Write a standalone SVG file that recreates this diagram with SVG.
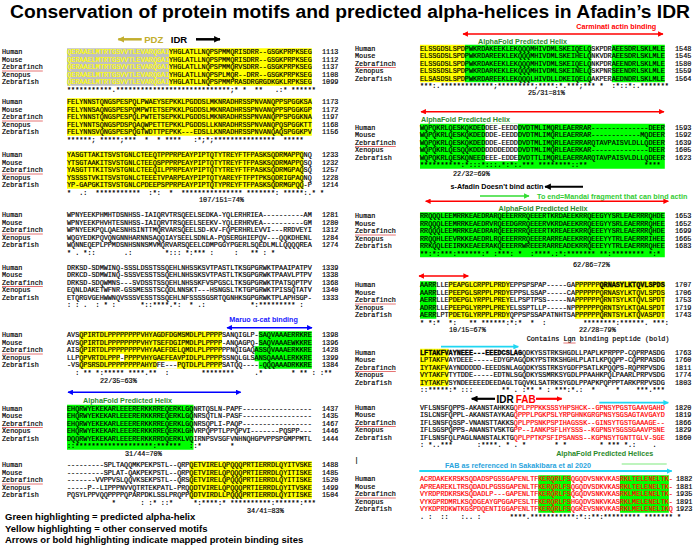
<svg xmlns="http://www.w3.org/2000/svg" width="700" height="545" viewBox="0 0 700 545">
<style>
.m{font-family:"Liberation Mono","DejaVu Sans Mono",monospace;font-size:6.8px;fill:#000;stroke:#000;stroke-width:0.18px;white-space:pre}
.b{font-weight:bold;stroke-width:0.35px}
.r{fill:#ff0000;stroke:#ff0000}
.yt{fill:#ffff00;stroke:#ffff00}
.lbl{font-family:"Liberation Sans",Arial,sans-serif;font-weight:bold;font-size:7.2px}
.hy{fill:#ffff00}
.hg{fill:#00ff00}
.hgr{fill:#c0c0c0}
.hw{fill:#ffffff}
.und{stroke:#e05050;stroke-width:0.8}
.leg{font-family:"Liberation Sans",Arial,sans-serif;font-weight:bold;font-size:9.5px;fill:#000}
</style>
<defs>
<marker id="ar-red" viewBox="0 0 10 10" refX="9" refY="5" markerWidth="6" markerHeight="5.5" markerUnits="userSpaceOnUse" orient="auto-start-reverse"><path d="M0,0L10,5L0,10z" fill="#ff0000"/></marker>
<marker id="ar-blue" viewBox="0 0 10 10" refX="9" refY="5" markerWidth="6" markerHeight="5.5" markerUnits="userSpaceOnUse" orient="auto-start-reverse"><path d="M0,0L10,5L0,10z" fill="#0000ff"/></marker>
<marker id="ar-blk" viewBox="0 0 10 10" refX="9" refY="5" markerWidth="7" markerHeight="6.5" markerUnits="userSpaceOnUse" orient="auto-start-reverse"><path d="M0,0L10,5L0,10z" fill="#000000"/></marker>
<marker id="ar-olv" viewBox="0 0 10 10" refX="9" refY="5" markerWidth="7" markerHeight="6.5" markerUnits="userSpaceOnUse" orient="auto-start-reverse"><path d="M0,0L10,5L0,10z" fill="#c2ae2e"/></marker>
<marker id="ar-grn" viewBox="0 0 10 10" refX="9" refY="5" markerWidth="6" markerHeight="5.5" markerUnits="userSpaceOnUse" orient="auto-start-reverse"><path d="M0,0L10,5L0,10z" fill="#33dd33"/></marker>
<marker id="ar-cyn" viewBox="0 0 10 10" refX="9" refY="5" markerWidth="6" markerHeight="5.5" markerUnits="userSpaceOnUse" orient="auto-start-reverse"><path d="M0,0L10,5L0,10z" fill="#1fd6f2"/></marker>
</defs>
<rect width="700" height="545" fill="#ffffff"/>
<text x="10" y="18" font-family="'Liberation Sans',Arial,sans-serif" font-weight="bold" font-size="17.5" textLength="680" lengthAdjust="spacingAndGlyphs">Conservation of protein motifs and predicted alpha-helices in Afadin’s IDR</text>

<g id="highlights">
<rect class="hgr" x="67" y="48.25" width="102" height="37.5"/>
<rect class="hy" x="169" y="48.25" width="142.8" height="37.5"/>
<rect class="hy" x="67" y="98.25" width="244.8" height="37.5"/>
<rect class="hy" x="67" y="151.25" width="236.64" height="37.5"/>
<rect class="hy" x="79.24" y="331.25" width="142.8" height="37.5"/>
<rect class="hw" x="120.04" y="353.75" width="4.08" height="7.5"/>
<rect class="hw" x="156.76" y="361.25" width="20.4" height="7.5"/>
<rect class="hg" x="258.76" y="331.25" width="53.04" height="15"/>
<rect class="hg" x="254.68" y="346.25" width="57.12" height="15"/>
<rect class="hg" x="258.76" y="361.25" width="53.04" height="7.5"/>
<rect class="hg" x="67" y="404.75" width="126.48" height="45"/>
<rect class="hy" x="189.4" y="461.25" width="122.4" height="37.5"/>
<rect class="hy" x="420" y="44.75" width="44.88" height="37.5"/>
<rect class="hg" x="464.88" y="44.75" width="126.48" height="37.5"/>
<rect class="hg" x="611.76" y="44.75" width="53.04" height="37.5"/>
<rect class="hg" x="420" y="123.75" width="244.8" height="45"/>
<rect class="hw" x="485.28" y="123.75" width="32.64" height="37.5"/>
<rect class="hg" x="420" y="212.25" width="244.8" height="45"/>
<rect class="hg" x="420" y="281.25" width="16.32" height="37.5"/>
<rect class="hy" x="448.56" y="281.25" width="61.2" height="37.5"/>
<rect class="hy" x="575.04" y="281.25" width="89.76" height="37.5"/>
<rect class="hy" x="420" y="348.75" width="28.56" height="37.5"/>
<rect class="hg" x="538.32" y="475.25" width="32.64" height="37.5"/>
<rect class="hg" x="619.92" y="475.25" width="48.96" height="37.5"/>
</g>

<g id="block-L1" class="m">
<text x="2" y="54.2">Human</text><text x="67" y="54.2"><tspan class="yt">QERAAELMTRTGSVVTLEVARQGAI</tspan>YHGLATLLNQPSPMMQRISDRR--GSGKPRPKSEG</text><text x="322" y="54.2">1113</text>
<text x="2" y="61.7">Mouse</text><text x="67" y="61.7"><tspan class="yt">QERAAELMTRTGSVVTLEVARQGAI</tspan>YHGLATLLNQPSPMMQRISDRR--GSGKPRPKSEG</text><text x="322" y="61.7">1112</text>
<text x="2" y="69.2">Zebrafinch</text><text x="67" y="69.2"><tspan class="yt">QERAAELMTRTGSVVTLEVARQGAI</tspan>YHGLATLLNQPSPMMQRVSDRR--GSGKPRPKSEG</text><text x="322" y="69.2">1137</text>
<text x="2" y="76.7">Xenopus</text><text x="67" y="76.7"><tspan class="yt">QERAAELMTRTGSVVTLEVARQGAI</tspan>YHGLATLLNQPSPLMQR--DRR--GSGKPRPKSEG</text><text x="322" y="76.7">1108</text>
<text x="2" y="84.2">Zebrafish</text><text x="67" y="84.2"><tspan class="yt">QERAAELMTRTGSVVTLEVARQGAI</tspan>YHGLATLLNQPSPMMPRASDRGRGDKGKLRPKSEG</text><text x="322" y="84.2">1099</text>
<text x="67" y="91.7" xml:space="preserve">***********.****************************;* *  **   .:* ******</text>
</g>

<g id="block-L2" class="m">
<text x="2" y="104.2">Human</text><text x="67" y="104.2">FELYNNSTQNGSPESPQLPWAEYSEPKKLPGDDSLMKNRADHRSSPNVANQPPSPGGKSA</text><text x="322" y="104.2">1173</text>
<text x="2" y="111.7">Mouse</text><text x="67" y="111.7">FELYNNSAQNGSPESPQMPWTETSEPKKLPGDDSLMKNRADHRSSPNVANQPPSPGGKGP</text><text x="322" y="111.7">1172</text>
<text x="2" y="119.2">Zebrafinch</text><text x="67" y="119.2">FELYNNSTQNGSPESPQLPWTETSEPKKLPGDDSLMKNRADHRSSPNVANQPPSPGGKNA</text><text x="322" y="119.2">1197</text>
<text x="2" y="126.7">Xenopus</text><text x="67" y="126.7">FELYNNTSQNGSPDSPQAQWPETTEPKKLPGDDSLLKNRADHRSSPNVANQPQSPGGKTT</text><text x="322" y="126.7">1168</text>
<text x="2" y="134.2">Zebrafish</text><text x="67" y="134.2">FELYNNSVQNGSPESPQGTWDTTPEPKK---EDSLLKNRADHRSSPNVANQAQSPGGKPV</text><text x="322" y="134.2">1156</text>
<text x="67" y="141.7" xml:space="preserve">******; *****;***  *  * ****   :*;*;***************  *****</text>
</g>

<g id="block-L3" class="m">
<text x="2" y="157.2">Human</text><text x="67" y="157.2">YASGTTAKITSVSTGNLCTEEQTPPPRPEAYPIPTQTYTREYFTFPASKSQDRMAPPQNQ</text><text x="322" y="157.2">1233</text>
<text x="2" y="164.7">Mouse</text><text x="67" y="164.7">YTSGTAAKITSVSTGNLCTEEQSPPPRPEAYPIPTQTYTREYFTFPASKSQDRMAPPQSQ</text><text x="322" y="164.7">1232</text>
<text x="2" y="172.2">Zebrafinch</text><text x="67" y="172.2">YASGTTTKITSVSTGNLCTEEQILPPRPEAYPIPTQTYTREYFTFPASKSQDRMGPAQSQ</text><text x="322" y="172.2">1257</text>
<text x="2" y="179.7">Xenopus</text><text x="67" y="179.7">YSSSSTVKITSVSTGNLCTEEETVPARPEAYPIPTQTYAREYFTFPTPKSQDRIGPAQNQ</text><text x="322" y="179.7">1228</text>
<text x="2" y="187.2">Zebrafish</text><text x="67" y="187.2">YP-GAPGKITSVSTGNLCPDEEPSPPRPEAYPIPTQTYPREYFTFPASKSQDRMGPQQ-P</text><text x="322" y="187.2">1214</text>
<text x="67" y="194.7" xml:space="preserve">*  .:  ***********  :*:  *  *************** *******: *****:.* *</text>
<text x="199" y="202.2">107/151=74%</text>
</g>

<g id="block-L4" class="m">
<text x="2" y="217.2">Human</text><text x="67" y="217.2">WPNYEEKPHMHTDSNHSS-IAIQRVTRSQEELSEDKA-YQLERHRIEA----------AM</text><text x="322" y="217.2">1281</text>
<text x="2" y="224.7">Mouse</text><text x="67" y="224.7">WPNYEEKPHVHTESNHSS-IAIQRVTRSQEELSEEKV-YQLERHRVEA----------GM</text><text x="322" y="224.7">1280</text>
<text x="2" y="232.2">Zebrafinch</text><text x="67" y="232.2">WPNYEEKPQLQAESNHSINTTMQRVARSQEELSD-KV-FQPERHRLEVVI---RRDVEYI</text><text x="322" y="232.2">1312</text>
<text x="2" y="239.7">Xenopus</text><text x="67" y="239.7">WQGYEDKPQVQNGNNHARNNSAQQIAYSEELSDNLA-PQSERGHIEPQV---QQKDHENL</text><text x="322" y="239.7">1284</text>
<text x="2" y="247.2">Zebrafish</text><text x="67" y="247.2">WQNNEQEPLPPMDSNHSNNSMVMQRVARSQEELCDMPGGYPGERLSQEDLMLLQQQQREA</text><text x="322" y="247.2">1274</text>
<text x="67" y="254.7" xml:space="preserve">* . *::       .:        *::: *:*** :     :   ** : *</text>
</g>

<g id="block-L5" class="m">
<text x="2" y="269.7">Human</text><text x="67" y="269.7">DRKSD-SDMWINQ-SSSLDSSTSSQEHLNHSSKSVTPASTLTKSGPGRWKTPAAIPATPV</text><text x="322" y="269.7">1339</text>
<text x="2" y="277.2">Mouse</text><text x="67" y="277.2">DRKCD-SDMWINQ-SSSVESSTSSQEHLNHSSKSVTPASTLTKSGPGRWKTPAAVLPTPV</text><text x="322" y="277.2">1338</text>
<text x="2" y="284.7">Zebrafinch</text><text x="67" y="284.7">DRKSD-SDQWMNS---SVDSSTSSQEHLNHSSKFVSPGSCLTKSGPGRWKTPATSQPTPV</text><text x="322" y="284.7">1368</text>
<text x="2" y="292.2">Xenopus</text><text x="67" y="292.2">EQNLDAKETWFNR-GSSMESSTSCQDLNNSKT---HSNGSLTKTGPGRWKTPISSQTATV</text><text x="322" y="292.2">1340</text>
<text x="2" y="299.7">Zebrafish</text><text x="67" y="299.7">ETQRGVGEHWWNQVSSSVESSTSSQEHLNFSSSSGSRTQGNHKSGPGRWKTPLAPHSGP-</text><text x="322" y="299.7">1333</text>
<text x="67" y="307.2" xml:space="preserve">: : .  : * :      *::****.*:  * .:           *:********* :</text>
</g>

<g id="block-L6" class="m">
<text x="2" y="337.2">Human</text><text x="67" y="337.2">AVSQPIRTDLPPPPPPPPVHYAGDFDGMSMDLPLPPPPSANQIGLP-SAQVAAAERRKRE</text><text x="322" y="337.2">1398</text>
<text x="2" y="344.7">Mouse</text><text x="67" y="344.7">AVSQPIRTDLPPPPPPPPVHYTSEFDGIPMDLPLPPPP-ANQAGPQ-SAQVAAAEWKKRE</text><text x="322" y="344.7">1396</text>
<text x="2" y="352.2">Zebrafinch</text><text x="67" y="352.2">AISQPIRTDLPPPPPPPPVHYAAEFDELQMDLPLPPPPPPNQIGAQASSQVAAAERKKRE</text><text x="322" y="352.2">1428</text>
<text x="2" y="359.7">Xenopus</text><text x="67" y="359.7">LLPQPVRTDLPPP-PPPPVHYGAEFEAVPIDLPLPPPPSSNQLGLSANSQAAALERKKRE</text><text x="322" y="359.7">1399</text>
<text x="2" y="367.2">Zebrafish</text><text x="67" y="367.2">-VSQPSRSDLPPPPPPPPAHYDFE---PQTDLPLPPPPSATQQ-----QQQAAADRKKRE</text><text x="322" y="367.2">1384</text>
<text x="67" y="374.7" xml:space="preserve">  : ** *:***** ****.**  :        ********     .*       * ** : :**</text>
<text x="100" y="382.7">22/35=63%</text>
</g>

<g id="block-L7" class="m">
<text x="2" y="410.7">Human</text><text x="67" y="410.7">EHQRWYEKEKARLEEERERKKRREQERKLGQNRTQSLN-PAPF-----------------</text><text x="322" y="410.7">1437</text>
<text x="2" y="418.2">Mouse</text><text x="67" y="418.2">EHQRWYEKEKARLEEERERKKRREQERKLGQNRSQTLN-PASF-----------------</text><text x="322" y="418.2">1435</text>
<text x="2" y="425.7">Zebrafinch</text><text x="67" y="425.7">EHQRWYEKEKARLEEERERKKRREQERKLGQNRSQPLI-PAQP-----------------</text><text x="322" y="425.7">1467</text>
<text x="2" y="433.2">Xenopus</text><text x="67" y="433.2">EHQRWYEKEKARLEEERERKKRREQERKLGHVRPQPPTLPPQPVI-------PQSPP---</text><text x="322" y="433.2">1446</text>
<text x="2" y="440.7">Zebrafish</text><text x="67" y="440.7">DQQRWYEKEKARLEEERERKKRRDQERKLVQIRNPSVSGFVNHNQHGPVPPSPGMPPMTL</text><text x="322" y="440.7">1444</text>
<text x="67" y="448.2" xml:space="preserve">::*******************:******  ::*       *</text>
<text x="125" y="456.3">31/44=70%</text>
</g>

<g id="block-L8" class="m">
<text x="2" y="467.2">Human</text><text x="67" y="467.2">---------SPLTAQQMKPEKPSTL--QRPQETVIRELQPQQQPRTIERRDLQYITVSKE</text><text x="322" y="467.2">1488</text>
<text x="2" y="474.7">Mouse</text><text x="67" y="474.7">---------SPLAT-QAKPEKPSTL--QRPQETVIRELQPQQQPRTIERRDLQYITISKE</text><text x="322" y="474.7">1485</text>
<text x="2" y="482.2">Zebrafinch</text><text x="67" y="482.2">-------VVPPVSLQQVKSEKPSTL--QRSQETVIRELQPQQQPRTIERRDLQYITISKE</text><text x="322" y="482.2">1520</text>
<text x="2" y="489.7">Xenopus</text><text x="67" y="489.7">-----P--LIPPPNVVQTRTEKPATL-PRQQDTVIRELQPQQQPRTIERRDLQYITVSKE</text><text x="322" y="489.7">1499</text>
<text x="2" y="497.2">Zebrafish</text><text x="67" y="497.2">PQSYLPPVQQPPPPQPARPDKLSSLPRQPPQDTVIRDLLPQQQPRTIERRDLQYITISKE</text><text x="322" y="497.2">1504</text>
<text x="67" y="504.7" xml:space="preserve">           *      : :* ::*     *:****:* **********:******:***</text>
<text x="247" y="513.2">34/41=83%</text>
</g>

<g id="block-R1" class="m">
<text x="355" y="50.7">Human</text><text x="420" y="50.7">ELSSGDSLSPDPWKRDAKEEKLEKQQQMHIVDMLSKEIQELQSKPDRAEESDRLSKLMLE</text><text x="675" y="50.7">1548</text>
<text x="355" y="58.2">Mouse</text><text x="420" y="58.2">ELSSGDSLSPDPWKRDAREEKLEKQQQMHIVDMLSKEIHELQNKVDRAEESDRLSKLMLE</text><text x="675" y="58.2">1545</text>
<text x="355" y="65.7">Zebrafinch</text><text x="420" y="65.7">ELSSGDSLSPDPWKRDAKEEKLEKQQQMHIVDMLSKEIQELQNKPDRAEENDRLSKLMLE</text><text x="675" y="65.7">1580</text>
<text x="355" y="73.2">Xenopus</text><text x="420" y="73.2">ELSSSDSLSPDPWKRDARKEKLEKQQQMHIVDMLSKEINELQSKPNRSEENDRLSKLMLE</text><text x="675" y="73.2">1559</text>
<text x="355" y="80.7">Zebrafish</text><text x="420" y="80.7">ELSASDSLSPDPWKRDAREEKLEKQQQLHIVDLLDKEIQELQAKPERAEDNDRLSKLMLE</text><text x="675" y="80.7">1564</text>
<text x="420" y="88.2" xml:space="preserve">***:.*************;*********;****:*.***;*** *  :*::*:.*******</text>
<text x="528" y="95">25/31=81%</text>
</g>

<g id="block-R2" class="m">
<text x="355" y="129.7">Human</text><text x="420" y="129.7">WQPQKRLQESKQKDEDDEE-EEDDDVDTMLIMQRLEAERRAR--------------DEER</text><text x="675" y="129.7">1593</text>
<text x="355" y="137.2">Mouse</text><text x="420" y="137.2">WQPQKRLQESKQKDEDDDE-EEDDDVDTMLIMQRLEAERRAR------------MQDEER</text><text x="675" y="137.2">1592</text>
<text x="355" y="144.7">Zebrafinch</text><text x="420" y="144.7">WQPQKRLQESKQKDEDDDE-EEDDDVDTMLIMQRLEAERRARQTAVPAISVLDLLQDEER</text><text x="675" y="144.7">1639</text>
<text x="355" y="152.2">Xenopus</text><text x="420" y="152.2">WQPQKRLQESQQKDDDDDDDEDDDDVDTMLIMQRLEAERKAR--------------DEER</text><text x="675" y="152.2">1605</text>
<text x="355" y="159.7">Zebrafish</text><text x="420" y="159.7">WQPQKRLQESKQNEEDEEE-EDDEDVDTTLIMQRLEAERRARQTAVPAISVLDLLQDEER</text><text x="675" y="159.7">1623</text>
<text x="420" y="167.2" xml:space="preserve">**********:*:::*:::.*:*:.*** ********::**              ****</text>
<text x="453" y="175.5">22/32=69%</text>
</g>

<g id="block-R3" class="m">
<text x="355" y="218.2">Human</text><text x="420" y="218.2">RRQQQLEEMRRKEAEDRARQEEERRRQEEERTKRDAEEKRRQEEGYYSRLEAERRRQHDE</text><text x="675" y="218.2">1653</text>
<text x="355" y="225.7">Mouse</text><text x="420" y="225.7">RRQQQLEEMRRKEAEDRVRQEEDGRRQEEERVKRDAEEKRRQEEGYYSRLEAERRRQHEE</text><text x="675" y="225.7">1652</text>
<text x="355" y="233.2">Zebrafinch</text><text x="420" y="233.2">RRQQQLEEMRRKEAEDRARQEEERRRQEEERTKREAEEKRRQEEEYYSRLEAERRRQHDE</text><text x="675" y="233.2">1699</text>
<text x="355" y="240.7">Xenopus</text><text x="420" y="240.7">RRQQHLEEVRKKEAEDRLRQEEERRRQEEERARREAEEKRRQEEEYYTRLEAERRRIHEE</text><text x="675" y="240.7">1665</text>
<text x="355" y="248.2">Zebrafish</text><text x="420" y="248.2">RRKQQLEEIRKKEAEERAKQEEERRWREEERARREADEKRRQEEEYYTRLEAERRRQHEE</text><text x="675" y="248.2">1683</text>
<text x="420" y="255.7" xml:space="preserve">**:*:***:******:* :***: *  :****.:*:******* **:******** *:*</text>
<text x="573" y="266.5">62/86=72%</text>
</g>

<g id="block-R4" class="m">
<text x="355" y="287.2">Human</text><text x="420" y="287.2">AARRLLEPEAPGLCRPPLPRDYEPPSPSPAP-----GAPPPPPP<tspan class="b">QRNASYLKTQVLSPDS</tspan></text><text x="675" y="287.2">1707</text>
<text x="355" y="294.7">Mouse</text><text x="420" y="294.7">AARRLLEPEEPGLSRPPLPRDYEPPSLSSAP-----CAPPPPPPQRNASYLKTQVLSPDS</text><text x="675" y="294.7">1706</text>
<text x="355" y="302.2">Zebrafinch</text><text x="420" y="302.2">AERRLLEPDEPGLYRPPLPREYELPSPTPSS-----NAPPPPPPQRNTSYLKTQVLSPDT</text><text x="675" y="302.2">1753</text>
<text x="355" y="309.7">Xenopus</text><text x="420" y="309.7">ADRRLLEPEEPGLYRPPLPREYELSSPTLLP-----NPPPPPPPQRNTSYLKTQALSPDT</text><text x="675" y="309.7">1719</text>
<text x="355" y="317.2">Zebrafish</text><text x="420" y="317.2">AERRLPTPDETGLYRPPLPRDYQPPSPSSAPATNHTSAPPPPPPQRNTSYLKTQVASPDT</text><text x="675" y="317.2">1743</text>
<text x="420" y="324.7" xml:space="preserve">* *:*  *:   ** ******:*:*  *  :         ********:******. ***:</text>
<text x="449" y="331.5">10/15=67%</text>
<text x="579" y="331.5">22/28=79%</text>
<text x="526.7" y="341.2">Contains Lgn binding peptide (bold)</text>
</g>

<g id="block-R5" class="m">
<text x="355" y="354.7">Human</text><text x="420" y="354.7"><tspan class="b">LFTAKFVAYNEEE---EEEDCSLAG</tspan>QDKYSSTRKSHGDLLPAPLKPRPPP-CQPRPASDG</text><text x="675" y="354.7">1763</text>
<text x="355" y="362.2">Mouse</text><text x="420" y="362.2">LPTAKFVAYDEEE-----EDYGPAGQDKYPSTRKSHGHLPLATLKPQQPP-CQPRPASDG</text><text x="675" y="362.2">1760</text>
<text x="355" y="369.7">Zebrafinch</text><text x="420" y="369.7">IYTAKFVAYNDDDDD-EEEDSNLAGQDKYSSTRKSYGDFPSATLKPQQPS-RQPRPVSDG</text><text x="675" y="369.7">1811</text>
<text x="355" y="377.2">Xenopus</text><text x="420" y="377.2">VYTAKFVTYTDDE-----EDTNLSGQDKYSSMRKSYGDLPPAAHKPQLPAARLPRPVSDG</text><text x="675" y="377.2">1774</text>
<text x="355" y="384.7">Zebrafish</text><text x="420" y="384.7">IYTAKFVSYNDEEEEEDEEDAGLTGQVKLSATRKSYGDLPPAPKPQPPPTARKPRPVSDG</text><text x="675" y="384.7">1803</text>
<text x="420" y="392.2" xml:space="preserve">::*****:* :::       ** . :** * : ***:*.:  *     *    ***.***</text>
</g>

<g id="block-R6" class="m">
<text x="355" y="409.7">Human</text><text x="420" y="409.7">VFLSNSFQPPS-AKANSTAHKKG<tspan class="r">QPLPPPKKSSSYHPSHCK--GPNSYPGSTGAAVGAHD</tspan></text><text x="675" y="409.7">1820</text>
<text x="355" y="417.2">Mouse</text><text x="420" y="417.2">ISLCNSFQPPL-AKANSTAYKAG<tspan class="r">QPPPLPGKPSLYRPGHNKGRGPNSYSGSAGTAVGAYD</tspan></text><text x="675" y="417.2">1819</text>
<text x="355" y="424.7">Zebrafinch</text><text x="420" y="424.7">IFLSNSFQSSP-VNANSTTAKKS<tspan class="r">QPLPPSNKPSPIHAGSSK--GINSYTGSTGAAAGE--</tspan></text><text x="675" y="424.7">1866</text>
<text x="355" y="432.2">Xenopus</text><text x="420" y="432.2">IFLSGSPQPPS-ANANSTVSKTG<tspan class="r">PP--IANKPSFLHYSSS--KGPNSYSGSSGAAVPSNE</tspan></text><text x="675" y="432.2">1829</text>
<text x="355" y="439.7">Zebrafish</text><text x="420" y="439.7">IFLSNSFQLPAGLNANSTALKTG<tspan class="r">QPLPPTKPSFIPSANSS--KGPNSYTGNTTGLV-SGE</tspan></text><text x="675" y="439.7">1860</text>
<text x="420" y="447.2" xml:space="preserve">: *..***      :****. * . *       * *        * *** *.:    .</text>
<text x="354.5" y="462">|</text>
</g>

<g id="block-R7" class="m">
<text x="355" y="481.2">Human</text><text x="420" y="481.2" class="r">ACRDAKEKRSKSQDADSPGSSGAPENLTFKERQRLFSQGQDVSNKVKASRKLTELENELTK-</text><text x="676" y="481.2">1882</text>
<text x="355" y="488.7">Mouse</text><text x="420" y="488.7" class="r">APREAREKLTRSQDADLPGSSGAPENLTFKERQRLFSQGQDVSDKVKASRKLTELENELTK-</text><text x="676" y="488.7">1881</text>
<text x="355" y="496.2">Zebrafinch</text><text x="420" y="496.2" class="r">VYRDPRDKRSKSQDADLP---GAPENLTFKERQRLFSQGQDVSNKVKASRKLMELENELTK-</text><text x="676" y="496.2">1935</text>
<text x="355" y="503.7">Xenopus</text><text x="420" y="503.7" class="r">VYKGPRDMRLKSQDGEAYGPGGAPESLTFKERQRLFSHGQDVSNKVKASRKLMELENELTK-</text><text x="676" y="503.7">1891</text>
<text x="355" y="511.2">Zebrafish</text><text x="420" y="511.2" class="r">VYKDPRDKWTKGSPDQENTIGGAPENLTFKERQRLFSQGKEVSNKVKASRKLMELENELIKQ</text><text x="676" y="511.2">1923</text>
<text x="420" y="518.7" xml:space="preserve">. :  ::   :.. :       ****.***********:*::**:********* ******* *</text>
</g>

<g id="underlines">
<line class="und" x1="2" y1="71" x2="42.8" y2="71"/>
<line class="und" x1="2" y1="121" x2="42.8" y2="121"/>
<line class="und" x1="2" y1="174" x2="42.8" y2="174"/>
<line class="und" x1="2" y1="234" x2="42.8" y2="234"/>
<line class="und" x1="2" y1="286.5" x2="42.8" y2="286.5"/>
<line class="und" x1="2" y1="354" x2="42.8" y2="354"/>
<line class="und" x1="2" y1="427.5" x2="42.8" y2="427.5"/>
<line class="und" x1="2" y1="484" x2="42.8" y2="484"/>
<line class="und" x1="355" y1="67.5" x2="395.8" y2="67.5"/>
<line class="und" x1="355" y1="146.5" x2="395.8" y2="146.5"/>
<line class="und" x1="355" y1="235" x2="395.8" y2="235"/>
<line class="und" x1="355" y1="304" x2="395.8" y2="304"/>
<line class="und" x1="355" y1="371.5" x2="395.8" y2="371.5"/>
<line class="und" x1="355" y1="426.5" x2="395.8" y2="426.5"/>
<line class="und" x1="355" y1="498" x2="395.8" y2="498"/>
<line class="und" x1="563.4" y1="343" x2="575.6" y2="343"/>
</g>

<g id="labels">
<text x="153.7" y="42.7" text-anchor="middle" font-family="'Liberation Sans',Arial,sans-serif" font-weight="bold" font-size="9.5" fill="#c2ae2e">PDZ</text>
<text x="179" y="42.7" text-anchor="middle" font-family="'Liberation Sans',Arial,sans-serif" font-weight="bold" font-size="9.5" fill="#000">IDR</text>
<text x="263.5" y="321.6" text-anchor="middle" class="lbl" fill="#1a1aff">Maruo α-cat binding</text>
<text x="127.5" y="402.6" text-anchor="middle" class="lbl" fill="#2b8a2b">AlphaFold Predicted Helix</text>
<text x="616.3" y="29.3" text-anchor="middle" class="lbl" fill="#ff0000">Carminati actin binding</text>
<text x="522.5" y="43.9" text-anchor="middle" class="lbl" fill="#2b8a2b">AlphaFold Predicted Helix</text>
<text x="465.5" y="121.9" text-anchor="middle" class="lbl" fill="#2b8a2b">AlphaFold Predicted Helix</text>
<text x="496.9" y="189.3" text-anchor="middle" class="lbl" fill="#000">s-Afadin Doesn't bind actin</text>
<text x="612.2" y="198.6" text-anchor="middle" class="lbl" fill="#33cc33">To end=Mandai fragment that can bind actin</text>
<text x="543" y="211.3" text-anchor="middle" class="lbl" fill="#2b8a2b">AlphaFold Predicted Helix</text>
<text x="505.2" y="402.7" text-anchor="middle" font-family="'Liberation Sans',Arial,sans-serif" font-weight="bold" font-size="10" fill="#000">IDR</text>
<text x="525.8" y="402.7" text-anchor="middle" font-family="'Liberation Sans',Arial,sans-serif" font-weight="bold" font-size="10" fill="#ff0000">FAB</text>
<text x="604.7" y="455.8" text-anchor="middle" class="lbl" fill="#2b8a2b">AlphaFold Predicted Helices</text>
<text x="518" y="467.6" text-anchor="middle" class="lbl" fill="#2aa4dd">FAB as referenced in Sakakibara et al 2020</text>
</g>

<g id="connectors" fill="none">
<line x1="141.7" y1="39.3" x2="118.3" y2="39.3" stroke="#c2ae2e" stroke-width="2.5" marker-end="url(#ar-olv)"/>
<line x1="196" y1="39.3" x2="220" y2="39.3" stroke="#000" stroke-width="2.5" marker-end="url(#ar-blk)"/>
<line x1="227" y1="327.7" x2="312" y2="327.7" stroke="#0000ff" stroke-width="1.5" marker-start="url(#ar-blue)" marker-end="url(#ar-blue)"/>
<line x1="68" y1="392.3" x2="240.7" y2="392.3" stroke="#0000ff" stroke-width="1.5" marker-start="url(#ar-blue)" marker-end="url(#ar-blue)"/>
<line x1="463" y1="34" x2="663" y2="34" stroke="#ff0000" stroke-width="1.5" marker-start="url(#ar-red)" marker-end="url(#ar-red)"/>
<line x1="421" y1="111.7" x2="664" y2="111.7" stroke="#ff0000" stroke-width="1.5" marker-start="url(#ar-red)" marker-end="url(#ar-red)"/>
<line x1="583" y1="186.7" x2="545" y2="186.7" stroke="#000" stroke-width="2" marker-end="url(#ar-blk)"/>
<line x1="480" y1="196" x2="529" y2="196" stroke="#33dd33" stroke-width="1.5" marker-end="url(#ar-grn)"/>
<line x1="425.7" y1="201.3" x2="668.3" y2="201.3" stroke="#ff0000" stroke-width="1.5" marker-start="url(#ar-red)" marker-end="url(#ar-red)"/>
<line x1="419" y1="276" x2="468.3" y2="276" stroke="#ff0000" stroke-width="1.5" marker-start="url(#ar-red)" marker-end="url(#ar-red)"/>
<line x1="441" y1="346.7" x2="518.3" y2="346.7" stroke="#1fd6f2" stroke-width="1.8" marker-end="url(#ar-cyn)"/>
<line x1="495" y1="398.8" x2="471.7" y2="398.8" stroke="#000" stroke-width="2.2" marker-end="url(#ar-blk)"/>
<line x1="536" y1="398.8" x2="561.7" y2="398.8" stroke="#ff0000" stroke-width="2.2" marker-end="url(#ar-red)"/>
<line x1="599.3" y1="402.7" x2="668.3" y2="402.7" stroke="#1fd6f2" stroke-width="1.8" marker-end="url(#ar-cyn)"/>
<line x1="621.7" y1="464" x2="666.7" y2="464" stroke="#a8f0a8" stroke-width="1.5"/>
<line x1="419.3" y1="471" x2="671.7" y2="471" stroke="#1fd6f2" stroke-width="1.8" marker-end="url(#ar-cyn)"/>
</g>

<g id="legend">
<text class="leg" x="5" y="520">Green highlighting = predicted alpha-helix</text>
<text class="leg" x="5" y="531.7">Yellow highlighting = other conserved motifs</text>
<text class="leg" x="5" y="543">Arrows or bold highlighting indicate mapped protein binding sites</text>
</g>
</svg>
